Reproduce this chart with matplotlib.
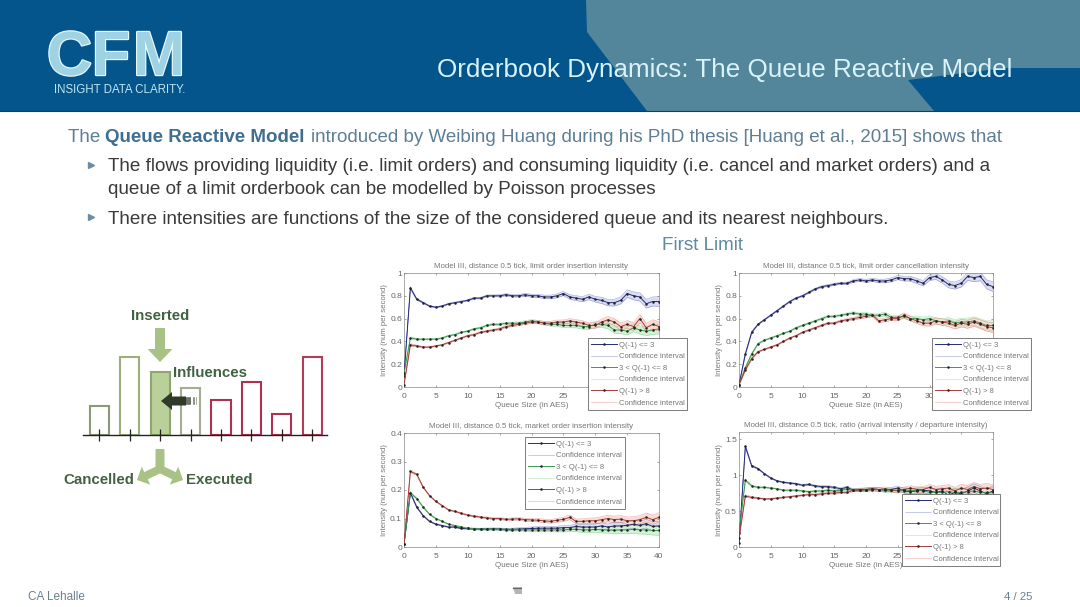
import matplotlib
matplotlib.use("Agg")
import matplotlib.pyplot as plt
import matplotlib.patheffects as pe
from matplotlib.patches import FancyArrow, Polygon

plt.rcParams['font.family'] = ['Liberation Sans', 'DejaVu Sans']

W, H = 1080, 607

# values, queue size 0..40
queue = list(range(41))

ins_low = [0.10, 0.87, 0.77, 0.74, 0.71, 0.70, 0.71, 0.73, 0.74, 0.75, 0.76, 0.78, 0.78, 0.80, 0.80, 0.80, 0.81, 0.80, 0.80, 0.81, 0.80, 0.80, 0.79, 0.79, 0.80, 0.82, 0.79, 0.78, 0.77, 0.79, 0.77, 0.76, 0.74, 0.74, 0.76, 0.82, 0.80, 0.79, 0.73, 0.75, 0.75]
ins_mid = [0.12, 0.43, 0.42, 0.42, 0.42, 0.42, 0.43, 0.45, 0.46, 0.48, 0.49, 0.51, 0.52, 0.54, 0.55, 0.55, 0.56, 0.56, 0.56, 0.57, 0.58, 0.57, 0.56, 0.55, 0.55, 0.54, 0.54, 0.54, 0.53, 0.53, 0.55, 0.55, 0.54, 0.50, 0.50, 0.49, 0.52, 0.50, 0.49, 0.50, 0.51]
ins_high = [0.02, 0.37, 0.36, 0.35, 0.35, 0.36, 0.37, 0.39, 0.41, 0.43, 0.45, 0.46, 0.48, 0.49, 0.50, 0.51, 0.53, 0.54, 0.55, 0.56, 0.57, 0.57, 0.56, 0.56, 0.57, 0.57, 0.58, 0.57, 0.56, 0.54, 0.54, 0.57, 0.59, 0.57, 0.53, 0.55, 0.53, 0.60, 0.52, 0.55, 0.53]

can_low = [0.02, 0.29, 0.48, 0.55, 0.59, 0.63, 0.67, 0.71, 0.75, 0.78, 0.80, 0.83, 0.86, 0.88, 0.89, 0.90, 0.91, 0.91, 0.93, 0.94, 0.93, 0.94, 0.93, 0.93, 0.94, 0.96, 0.95, 0.95, 0.93, 0.91, 0.96, 0.97, 0.94, 0.90, 0.89, 0.91, 0.97, 0.96, 0.97, 0.90, 0.88]
can_mid = [0.02, 0.17, 0.29, 0.38, 0.41, 0.43, 0.45, 0.47, 0.49, 0.52, 0.54, 0.56, 0.58, 0.60, 0.62, 0.62, 0.63, 0.64, 0.65, 0.64, 0.64, 0.63, 0.63, 0.64, 0.61, 0.61, 0.62, 0.60, 0.60, 0.59, 0.60, 0.58, 0.57, 0.58, 0.56, 0.57, 0.57, 0.58, 0.56, 0.54, 0.54]
can_high = [0.02, 0.15, 0.25, 0.31, 0.33, 0.35, 0.37, 0.40, 0.43, 0.45, 0.48, 0.50, 0.52, 0.54, 0.56, 0.56, 0.58, 0.59, 0.60, 0.61, 0.62, 0.63, 0.58, 0.59, 0.60, 0.60, 0.63, 0.60, 0.58, 0.56, 0.56, 0.58, 0.57, 0.56, 0.54, 0.56, 0.55, 0.57, 0.55, 0.53, 0.52]

mkt_low = [0.01, 0.19, 0.14, 0.11, 0.09, 0.08, 0.075, 0.07, 0.07, 0.065, 0.065, 0.063, 0.063, 0.063, 0.064, 0.063, 0.062, 0.062, 0.063, 0.064, 0.065, 0.066, 0.066, 0.066, 0.066, 0.068, 0.068, 0.072, 0.070, 0.070, 0.070, 0.074, 0.070, 0.074, 0.074, 0.076, 0.080, 0.076, 0.082, 0.072, 0.074]
mkt_mid = [0.01, 0.19, 0.17, 0.14, 0.115, 0.10, 0.09, 0.08, 0.075, 0.07, 0.065, 0.064, 0.063, 0.063, 0.062, 0.062, 0.060, 0.060, 0.061, 0.060, 0.060, 0.060, 0.060, 0.060, 0.060, 0.060, 0.062, 0.062, 0.060, 0.060, 0.062, 0.060, 0.060, 0.058, 0.060, 0.060, 0.062, 0.060, 0.060, 0.058, 0.058]
mkt_high = [0.01, 0.265, 0.255, 0.21, 0.18, 0.16, 0.145, 0.13, 0.125, 0.118, 0.112, 0.108, 0.105, 0.102, 0.100, 0.100, 0.097, 0.098, 0.099, 0.096, 0.095, 0.094, 0.092, 0.090, 0.094, 0.097, 0.104, 0.090, 0.090, 0.092, 0.092, 0.096, 0.100, 0.096, 0.098, 0.092, 0.092, 0.096, 0.104, 0.096, 0.104]

rat_low = [0.05, 1.40, 1.13, 1.09, 1.02, 0.96, 0.92, 0.90, 0.89, 0.88, 0.86, 0.87, 0.85, 0.84, 0.84, 0.83, 0.81, 0.83, 0.79, 0.80, 0.80, 0.81, 0.80, 0.79, 0.80, 0.82, 0.78, 0.77, 0.78, 0.79, 0.78, 0.76, 0.78, 0.72, 0.76, 0.74, 0.78, 0.82, 0.78, 0.74, 0.78]
rat_mid = [0.20, 0.93, 0.85, 0.83, 0.83, 0.82, 0.81, 0.79, 0.79, 0.79, 0.78, 0.77, 0.78, 0.78, 0.79, 0.78, 0.79, 0.81, 0.79, 0.79, 0.79, 0.80, 0.80, 0.79, 0.79, 0.78, 0.80, 0.78, 0.79, 0.78, 0.76, 0.76, 0.76, 0.77, 0.76, 0.76, 0.77, 0.78, 0.76, 0.76, 0.76]
rat_high = [0.12, 0.71, 0.69, 0.68, 0.67, 0.67, 0.68, 0.69, 0.70, 0.71, 0.72, 0.73, 0.73, 0.74, 0.75, 0.75, 0.76, 0.76, 0.79, 0.79, 0.80, 0.81, 0.80, 0.81, 0.79, 0.79, 0.80, 0.82, 0.80, 0.80, 0.83, 0.80, 0.81, 0.82, 0.78, 0.82, 0.80, 0.84, 0.81, 0.82, 0.80]

# half width of the confidence interval, as a share of the y range
ci_share = [0.005, 0.01, 0.008, 0.006, 0.005, 0.005, 0.005, 0.005, 0.005, 0.006, 0.006, 0.007, 0.007, 0.008, 0.008, 0.009, 0.009, 0.01, 0.011, 0.012, 0.013, 0.014, 0.015, 0.016, 0.017, 0.018, 0.02, 0.021, 0.022, 0.024, 0.025, 0.027, 0.028, 0.03, 0.031, 0.033, 0.035, 0.036, 0.038, 0.04, 0.042]

titles = ["Model III, distance 0.5 tick, limit order insertion intensity",
          "Model III, distance 0.5 tick, limit order cancellation intensity",
          "Model III, distance 0.5 tick, market order insertion intensity",
          "Model III, distance 0.5 tick, ratio (arrival intensity / departure intensity)"]
legend_labels = ["Q(-1) <= 3", "Confidence interval", "3 < Q(-1) <= 8",
                 "Confidence interval", "Q(-1) > 8", "Confidence interval"]

# schematic orderbook on the left
book_levels = [0, 1, 2, 3, 4, 5, 6, 7]
book_sizes = [29, 78, 63, 47, 35, 53, 21, 78]
book_edge = ['#8a9a78', '#9db07c', '#8ea56e', '#a3ad92', '#b03050', '#b03050', '#b03050', '#b83a5a']
book_fill = ['white', 'white', '#b9d09a', 'white', 'white', 'white', 'white', 'white']


def pix_axes(x0, y0, x1, y1):
    # axes placed in reference pixels, y measured from the top
    return fig.add_axes([x0 / W, 1 - y1 / H, (x1 - x0) / W, (y1 - y0) / H])


def panel(box, legend_box, series, title, ymax, yticks, yticklabels, xshown):
    ax = pix_axes(*box)
    colors = ['#2a35a5', '#4fc060', '#d8403c']
    darks = ['#252b78', '#3a9a52', '#a83c3a']
    fills = ['#d9dcf3', '#d2f2d4', '#f8dcd3']
    for vals, fill in zip(series, fills):
        lo = [v - c * ymax for v, c in zip(vals, ci_share)]
        hi = [v + c * ymax for v, c in zip(vals, ci_share)]
        ax.fill_between(queue, lo, hi, color=fill, lw=0, zorder=1)
    handles = []
    for vals, col, dark in zip(series, colors, darks):
        lo = [v - c * ymax for v, c in zip(vals, ci_share)]
        hi = [v + c * ymax for v, c in zip(vals, ci_share)]
        main, = ax.plot(queue, vals, color=dark, lw=0.7, marker='.', ms=1.6,
                        mfc='#222222', mec='#222222', zorder=3)
        band, = ax.plot(queue, lo, color=col, lw=0.4, alpha=0.45, zorder=2)
        ax.plot(queue, hi, color=col, lw=0.4, alpha=0.45, zorder=2)
        handles += [main, band]
    ax.set_xlim(0, 40)
    ax.set_ylim(0, ymax)
    # labels further right sit under the legend in the reference
    ax.set_xticks(range(0, 41, 5))
    ax.set_xticklabels([str(q) if q in xshown else '' for q in range(0, 41, 5)])
    ax.set_yticks(yticks)
    ax.set_yticklabels(yticklabels)
    ax.tick_params(direction='in', length=1.5, width=0.4, labelsize=6,
                   colors='#666666', top=True, right=True)
    ax.tick_params(axis='x', pad=4.2)
    ax.tick_params(axis='y', pad=1.5)
    for s in ax.spines.values():
        s.set_linewidth(0.5)
        s.set_color('#888888')
    ax.set_title(title, fontsize=5.65, color='#777777', pad=3.5)
    ax.set_xlabel("Queue Size (in AES)", fontsize=5.8, color='#777777', labelpad=1.8)
    ax.set_ylabel("Intensity (num per second)", fontsize=5.6, color='#777777', labelpad=1.5)
    x0, y0, x1, y1 = legend_box
    leg = ax.legend(handles, legend_labels, loc='lower left', mode='expand',
                    bbox_to_anchor=(x0 / W, 1 - y1 / H, (x1 - x0) / W, (y1 - y0) / H),
                    bbox_transform=fig.transFigure, fontsize=5.5, fancybox=False,
                    framealpha=1, edgecolor='#666666', labelspacing=0.55,
                    handlelength=3.3, handletextpad=0.3, borderpad=0.45, borderaxespad=0)
    leg.get_frame().set_linewidth(0.6)
    for t in leg.get_texts():
        t.set_color('#777777')
    leg.set_zorder(10)
    ax.set_zorder(5)
    return ax


fig = plt.figure(figsize=(W / 100, H / 100), dpi=100)

# whole slide as a pixel canvas
bg = fig.add_axes([0, 0, 1, 1])
bg.set_xlim(0, W)
bg.set_ylim(H, 0)
bg.axis('off')

# header band
bg.add_patch(Polygon([(0, 0), (W, 0), (W, 111), (0, 111)], closed=True, fc='#04558b', ec='none'))
bg.add_patch(Polygon([(586, 0), (W, 0), (W, 68), (1005, 68), (908, 80), (934, 111), (647, 111), (587, 32)],
                     closed=True, fc='#53869a', ec='none'))
bg.plot([0, W], [111, 111], color='#0c3f66', lw=0.8)

# logo letters placed one by one
for letter, lx in zip("CFM", [69.5, 111, 159]):
    logo = bg.text(lx, 75, letter, fontsize=45, fontweight='bold', color='#9fd3e4',
                   ha='center', va='baseline')
    logo.set_path_effects([pe.Stroke(linewidth=1.7, foreground='#e8fafc'), pe.Normal()])
bg.text(119.5, 90, "INSIGHT DATA CLARITY.", fontsize=8.3, color='#bfe6f2',
        ha='center', va='center')
bg.text(1012, 70, "Orderbook Dynamics: The Queue Reactive Model", fontsize=18.75, color='#d9f3fb',
        ha='right', va='center')

# body text
line_y = 137
first_col = '#5d7f96'
bg.text(68, line_y, "The ", fontsize=13.5, color=first_col, va='center')
bg.text(105, line_y, "Queue Reactive Model", fontsize=13.5, fontweight='bold', color='#3f6f90', va='center')
bg.text(311, line_y, "introduced by Weibing Huang during his PhD thesis [Huang et al., 2015] shows that",
        fontsize=13.5, color=first_col, va='center')

bg.plot([91, 91], [165, 217], ls='none', marker='>', ms=5, color='#6f8c9f')
bg.text(108, 166.5, "The flows providing liquidity (i.e. limit orders) and consuming liquidity (i.e. cancel and market orders) and a",
        fontsize=13.6, color='#3a3a3a', va='center')
bg.text(108, 189.5, "queue of a limit orderbook can be modelled by Poisson processes",
        fontsize=13.6, color='#3a3a3a', va='center')
bg.text(108, 219, "There intensities are functions of the size of the considered queue and its nearest neighbours.",
        fontsize=13.6, color='#3a3a3a', va='center')
bg.text(702, 245.5, "First Limit", fontsize=13.6, color='#5c8aa0', ha='center', va='center')

# footer
bg.text(28, 597, "CA Lehalle", fontsize=8.5, color='#6a7f8e', va='center')
bg.text(1032, 597, "4 / 25", fontsize=8.2, color='#6a7f8e', ha='right', va='center')
bg.add_patch(Polygon([(513, 587), (522, 587), (522, 594), (515, 594)], closed=True, fc='#b5b5b5', ec='none'))
bg.plot([513, 521], [587.5, 587.5], color='#666666', lw=0.8)

# schematic
book = pix_axes(83, 295, 327, 435)
book.set_xlim(-0.54, 7.49)
book.set_ylim(0, 140)
book.bar(book_levels, book_sizes, width=0.63, color=book_fill, edgecolor=book_edge, linewidth=1.5)
book.set_xticks(book_levels)
book.set_yticks([])
book.tick_params(axis='x', direction='inout', length=8, width=0.9, labelbottom=False, color='#222222')
for side in ['top', 'left', 'right']:
    book.spines[side].set_visible(False)
book.spines['bottom'].set_linewidth(1.0)
book.spines['bottom'].set_color('#222222')
book.patch.set_alpha(0)
for tick in book.xaxis.get_major_ticks():
    tick.tick1line.set_clip_on(False)

top = fig.add_axes([0, 0, 1, 1])
top.set_xlim(0, W)
top.set_ylim(H, 0)
top.axis('off')
top.patch.set_alpha(0)
green = '#a8c285'
top.add_patch(FancyArrow(160, 328, 0, 34, width=10, head_width=25, head_length=13,
                         length_includes_head=True, fc=green, ec='none'))
top.add_patch(FancyArrow(186, 401, -25, 0, width=9, head_width=18, head_length=11,
                         length_includes_head=True, fc='#2f3a28', ec='none'))
# the shaft of the black arrow fades out to the right
top.plot([186, 191], [401, 401], color='#6d7465', lw=5.5, solid_capstyle='butt')
top.plot([192.5, 194.5], [401, 401], color='#8f9587', lw=5.5, solid_capstyle='butt')
top.plot([195.5, 197], [401, 401], color='#a9aea2', lw=5.5, solid_capstyle='butt')
top.add_patch(FancyArrow(160, 449, 0, 24, width=9, head_width=9, head_length=0.1,
                         length_includes_head=True, fc=green, ec='none'))
top.add_patch(FancyArrow(160, 469, -23, 11, width=8, head_width=20, head_length=10,
                         length_includes_head=True, fc=green, ec='none'))
top.add_patch(FancyArrow(160, 469, 23, 11, width=8, head_width=20, head_length=10,
                         length_includes_head=True, fc=green, ec='none'))
label_col = '#3f6340'
top.text(160, 316, "Inserted", fontsize=10.8, fontweight='bold', color=label_col, ha='center', va='center')
top.text(210, 373, "Influences", fontsize=10.8, fontweight='bold', color=label_col, ha='center', va='center')
top.text(98.5, 480, "Cancelled", fontsize=10.8, fontweight='bold', color=label_col, ha='center', va='center')
top.text(219, 480, "Executed", fontsize=10.8, fontweight='bold', color=label_col, ha='center', va='center')

# the four intensity panels
panel((404, 273, 659, 387), (588, 341, 687, 410), [ins_low, ins_mid, ins_high], titles[0], 1,
      [0, 0.2, 0.4, 0.6, 0.8, 1], ['0', '0.2', '0.4', '0.6', '0.8', '1'], [0, 5, 10, 15, 20, 25])
panel((739, 273, 993, 387), (932, 340, 1031, 410), [can_low, can_mid, can_high], titles[1], 1,
      [0, 0.2, 0.4, 0.6, 0.8, 1], ['0', '0.2', '0.4', '0.6', '0.8', '1'], [0, 5, 10, 15, 20, 25, 30])
panel((404, 433, 659, 547), (525, 440, 625, 509), [mkt_low, mkt_mid, mkt_high], titles[2], 0.4,
      [0, 0.1, 0.2, 0.3, 0.4], ['0', '0.1', '0.2', '0.3', '0.4'], [0, 5, 10, 15, 20, 25, 30, 35, 40])
panel((739, 432, 993, 547), (902, 496, 1000, 566), [rat_low, rat_mid, rat_high], titles[3], 1.6,
      [0, 0.5, 1, 1.5], ['0', '0.5', '1', '1.5'], [0, 5, 10, 15, 20, 25])

fig.savefig("out.png", dpi=100)
